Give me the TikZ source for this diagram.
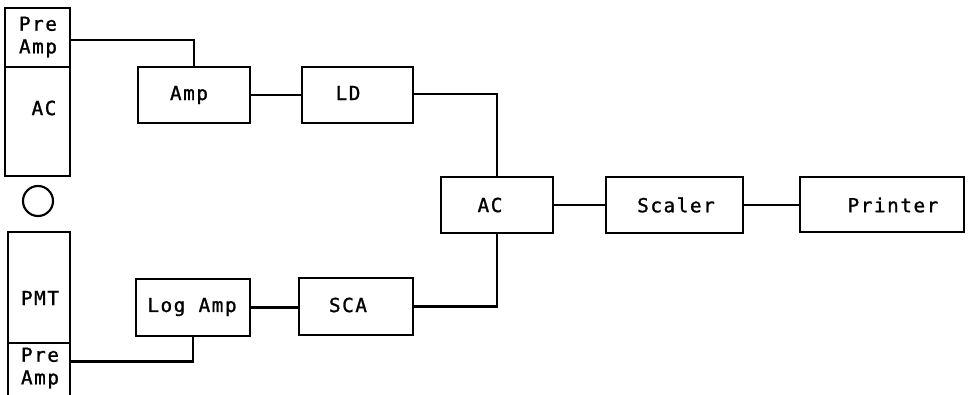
\documentclass[tikz,border=0pt]{standalone}
\usepackage{fontspec}
\setmonofont[LetterSpace=8,FakeBold=1.2]{DejaVu Sans Mono}
\usetikzlibrary{fit}
\begin{document}
\begin{tikzpicture}[x=0.75pt,y=-0.75pt,
  blk/.style={draw,line width=2.1pt,inner sep=0pt,rectangle},
  lbl/.style={font=\ttfamily\fontsize{14.5}{17}\selectfont,inner sep=0pt,align=center},
  wire/.style={line width=1.6pt}]
\useasboundingbox (0,0) rectangle (971,394);
% left column, top
\node[blk,fit={(5,8)(70,67)}] (preA) {};
\node[blk,fit={(5,67)(70,176)}] (acL) {};
\node[lbl] (tpreA) at (38,37) {Pre\\Amp};
\node[lbl] (tacL) at (44,108) {AC};
% detector
\node[draw,circle,line width=1.6pt,minimum size=22.5pt,inner sep=0pt] (det) at (38,201) {};
% left column, bottom
\node[blk,fit={(8,232)(70,343)}] (pmt) {};
\node[blk,fit={(8,343)(70,400)}] (preB) {};
\node[lbl] (tpmt) at (40,298) {PMT};
\node[lbl] (tpreB) at (40,368) {Pre\\Amp};
% chain boxes
\node[blk,fit={(138,67)(250,123)}] (amp) {};
\node[lbl] (tamp) at (189,95) {Amp};
\node[blk,fit={(302,67)(413,123)}] (ld) {};
\node[lbl] (tld) at (348,93) {LD};
\node[blk,fit={(136,279)(250,336)}] (logamp) {};
\node[lbl] (tlog) at (192,307) {Log Amp};
\node[blk,fit={(299,278)(413,335)}] (sca) {};
\node[lbl] (tsca) at (348,305) {SCA};
\node[blk,fit={(441,177)(553,233)}] (ac) {};
\node[lbl] (tac) at (490,205) {AC};
\node[blk,fit={(606,177)(743,233)}] (scaler) {};
\node[lbl] (tscaler) at (676,205) {Scaler};
\node[blk,fit={(800,177)(964,232)}] (printer) {};
\node[lbl] (tprinter) at (893,205) {Printer};
% connectors
\draw[wire] ([yshift=-2pt]preA.east) -| (amp.north);
\draw[wire] (amp.east) -- (ld.west);
\draw[wire] ([yshift=1pt]ld.east) -| (ac.north);
\draw[wire] ([yshift=7.5pt]preB.east) -| (logamp.south);
\draw[wire] (logamp.east) -- (logamp.east -| sca.west);
\draw[wire] (sca.east) -| (ac.south);
\draw[wire] (ac.east) -- (scaler.west);
\draw[wire] (scaler.east) -- (scaler.east -| printer.west);
\end{tikzpicture}
\end{document}
